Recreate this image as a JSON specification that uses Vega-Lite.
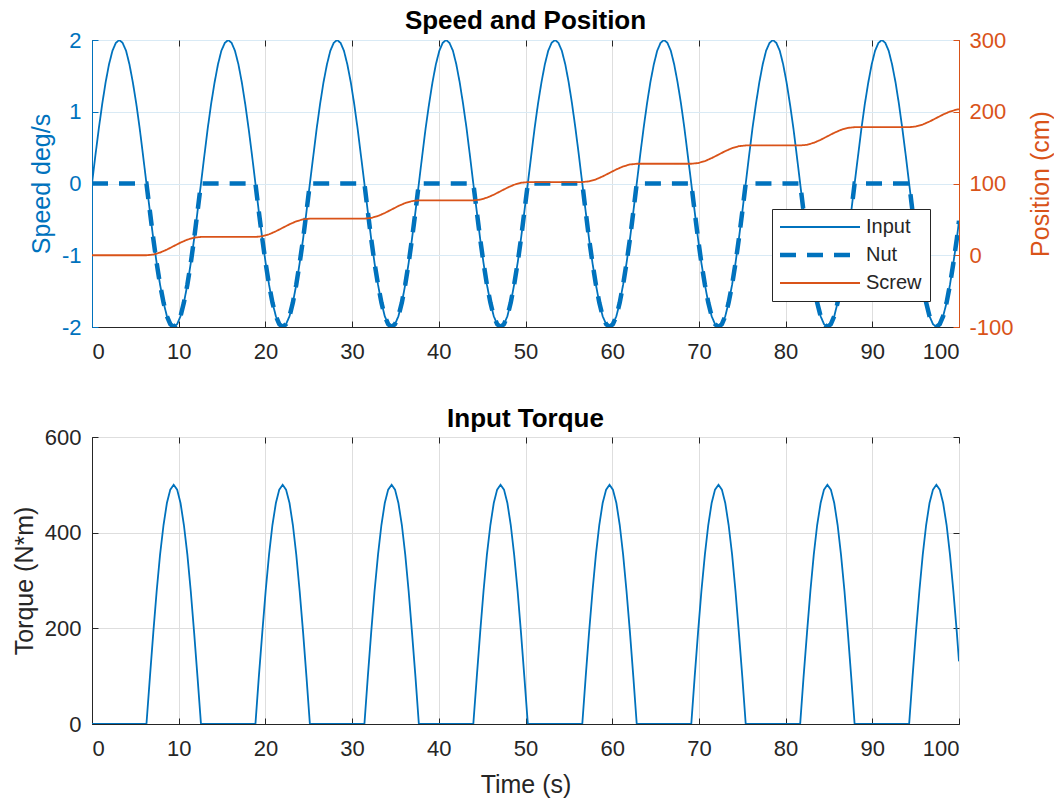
{
"$schema": "https://vega.github.io/schema/vega-lite/v6.json",
"padding": {"left": 11, "top": 7, "right": 0, "bottom": 0},
"spacing": 42,
"background": "#ffffff",
"config": {
  "font": "Liberation Sans",
  "view": {"stroke": "#262626", "strokeWidth": 1},
  "axis": {"labelFont": "Liberation Sans", "titleFont": "Liberation Sans", "labelFontSize": 22, "titleFontSize": 25, "titleFontWeight": "normal", "tickSize": -6, "tickWidth": 1, "domainWidth": 1, "gridWidth": 1, "labelPadding": 20, "minExtent": 0, "labelExpr": "'' + datum.value"},
  "title": {"font": "Liberation Sans", "fontSize": 26, "fontWeight": "bold", "color": "#000000", "offset": -3, "baseline": "alphabetic"},
  "legend": {"orient": "none", "legendX": 680, "legendY": 169, "title": null, "strokeColor": "#262626", "fillColor": "#ffffff", "padding": 8, "labelFontSize": 20, "labelColor": "#262626", "labelFont": "Liberation Sans", "symbolType": "M-4,0H4", "symbolSize": 400, "symbolOffset": 30, "labelOffset": 36, "rowPadding": 8}
},
"datasets": {
"sig": [
{"t":0,"Input":0,"Nut":0,"q":0},{"t":0.39,"Input":0.39,"Nut":0,"q":0},{"t":0.79,"Input":0.77,"Nut":0,"q":0},{"t":1.18,"Input":1.11,"Nut":0,"q":0},{"t":1.57,"Input":1.41,"Nut":0,"q":0},{"t":1.96,"Input":1.66,"Nut":0,"q":0},{"t":2.36,"Input":1.85,"Nut":0,"q":0},{"t":2.75,"Input":1.96,"Nut":0,"q":0},{"t":3.14,"Input":2,"Nut":0,"q":0},{"t":3.53,"Input":1.96,"Nut":0,"q":0},{"t":3.93,"Input":1.85,"Nut":0,"q":0},{"t":4.32,"Input":1.66,"Nut":0,"q":0},{"t":4.71,"Input":1.41,"Nut":0,"q":0},{"t":5.11,"Input":1.11,"Nut":0,"q":0},{"t":5.5,"Input":0.77,"Nut":0,"q":0},{"t":5.89,"Input":0.39,"Nut":0,"q":0},
{"t":6.28,"Input":0,"Nut":0,"q":0},{"t":6.68,"Input":-0.39,"Nut":-0.39,"q":98},{"t":7.07,"Input":-0.77,"Nut":-0.77,"q":191},{"t":7.46,"Input":-1.11,"Nut":-1.11,"q":278},{"t":7.85,"Input":-1.41,"Nut":-1.41,"q":354},{"t":8.25,"Input":-1.66,"Nut":-1.66,"q":416},{"t":8.64,"Input":-1.85,"Nut":-1.85,"q":462},{"t":9.03,"Input":-1.96,"Nut":-1.96,"q":490},{"t":9.42,"Input":-2,"Nut":-2,"q":500},{"t":9.82,"Input":-1.96,"Nut":-1.96,"q":490},{"t":10.21,"Input":-1.85,"Nut":-1.85,"q":462},{"t":10.6,"Input":-1.66,"Nut":-1.66,"q":416},{"t":11,"Input":-1.41,"Nut":-1.41,"q":354},{"t":11.39,"Input":-1.11,"Nut":-1.11,"q":278},{"t":11.78,"Input":-0.77,"Nut":-0.77,"q":191},{"t":12.17,"Input":-0.39,"Nut":-0.39,"q":98},
{"t":12.57,"Input":0,"Nut":0,"q":0},{"t":12.96,"Input":0.39,"Nut":0,"q":0},{"t":13.35,"Input":0.77,"Nut":0,"q":0},{"t":13.74,"Input":1.11,"Nut":0,"q":0},{"t":14.14,"Input":1.41,"Nut":0,"q":0},{"t":14.53,"Input":1.66,"Nut":0,"q":0},{"t":14.92,"Input":1.85,"Nut":0,"q":0},{"t":15.32,"Input":1.96,"Nut":0,"q":0},{"t":15.71,"Input":2,"Nut":0,"q":0},{"t":16.1,"Input":1.96,"Nut":0,"q":0},{"t":16.49,"Input":1.85,"Nut":0,"q":0},{"t":16.89,"Input":1.66,"Nut":0,"q":0},{"t":17.28,"Input":1.41,"Nut":0,"q":0},{"t":17.67,"Input":1.11,"Nut":0,"q":0},{"t":18.06,"Input":0.77,"Nut":0,"q":0},{"t":18.46,"Input":0.39,"Nut":0,"q":0},
{"t":18.85,"Input":0,"Nut":0,"q":0},{"t":19.24,"Input":-0.39,"Nut":-0.39,"q":98},{"t":19.64,"Input":-0.77,"Nut":-0.77,"q":191},{"t":20.03,"Input":-1.11,"Nut":-1.11,"q":278},{"t":20.42,"Input":-1.41,"Nut":-1.41,"q":354},{"t":20.81,"Input":-1.66,"Nut":-1.66,"q":416},{"t":21.21,"Input":-1.85,"Nut":-1.85,"q":462},{"t":21.6,"Input":-1.96,"Nut":-1.96,"q":490},{"t":21.99,"Input":-2,"Nut":-2,"q":500},{"t":22.38,"Input":-1.96,"Nut":-1.96,"q":490},{"t":22.78,"Input":-1.85,"Nut":-1.85,"q":462},{"t":23.17,"Input":-1.66,"Nut":-1.66,"q":416},{"t":23.56,"Input":-1.41,"Nut":-1.41,"q":354},{"t":23.95,"Input":-1.11,"Nut":-1.11,"q":278},{"t":24.35,"Input":-0.77,"Nut":-0.77,"q":191},{"t":24.74,"Input":-0.39,"Nut":-0.39,"q":98},
{"t":25.13,"Input":0,"Nut":0,"q":0},{"t":25.53,"Input":0.39,"Nut":0,"q":0},{"t":25.92,"Input":0.77,"Nut":0,"q":0},{"t":26.31,"Input":1.11,"Nut":0,"q":0},{"t":26.7,"Input":1.41,"Nut":0,"q":0},{"t":27.1,"Input":1.66,"Nut":0,"q":0},{"t":27.49,"Input":1.85,"Nut":0,"q":0},{"t":27.88,"Input":1.96,"Nut":0,"q":0},{"t":28.27,"Input":2,"Nut":0,"q":0},{"t":28.67,"Input":1.96,"Nut":0,"q":0},{"t":29.06,"Input":1.85,"Nut":0,"q":0},{"t":29.45,"Input":1.66,"Nut":0,"q":0},{"t":29.85,"Input":1.41,"Nut":0,"q":0},{"t":30.24,"Input":1.11,"Nut":0,"q":0},{"t":30.63,"Input":0.77,"Nut":0,"q":0},{"t":31.02,"Input":0.39,"Nut":0,"q":0},
{"t":31.42,"Input":0,"Nut":0,"q":0},{"t":31.81,"Input":-0.39,"Nut":-0.39,"q":98},{"t":32.2,"Input":-0.77,"Nut":-0.77,"q":191},{"t":32.59,"Input":-1.11,"Nut":-1.11,"q":278},{"t":32.99,"Input":-1.41,"Nut":-1.41,"q":354},{"t":33.38,"Input":-1.66,"Nut":-1.66,"q":416},{"t":33.77,"Input":-1.85,"Nut":-1.85,"q":462},{"t":34.16,"Input":-1.96,"Nut":-1.96,"q":490},{"t":34.56,"Input":-2,"Nut":-2,"q":500},{"t":34.95,"Input":-1.96,"Nut":-1.96,"q":490},{"t":35.34,"Input":-1.85,"Nut":-1.85,"q":462},{"t":35.74,"Input":-1.66,"Nut":-1.66,"q":416},{"t":36.13,"Input":-1.41,"Nut":-1.41,"q":354},{"t":36.52,"Input":-1.11,"Nut":-1.11,"q":278},{"t":36.91,"Input":-0.77,"Nut":-0.77,"q":191},{"t":37.31,"Input":-0.39,"Nut":-0.39,"q":98},
{"t":37.7,"Input":0,"Nut":0,"q":0},{"t":38.09,"Input":0.39,"Nut":0,"q":0},{"t":38.48,"Input":0.77,"Nut":0,"q":0},{"t":38.88,"Input":1.11,"Nut":0,"q":0},{"t":39.27,"Input":1.41,"Nut":0,"q":0},{"t":39.66,"Input":1.66,"Nut":0,"q":0},{"t":40.06,"Input":1.85,"Nut":0,"q":0},{"t":40.45,"Input":1.96,"Nut":0,"q":0},{"t":40.84,"Input":2,"Nut":0,"q":0},{"t":41.23,"Input":1.96,"Nut":0,"q":0},{"t":41.63,"Input":1.85,"Nut":0,"q":0},{"t":42.02,"Input":1.66,"Nut":0,"q":0},{"t":42.41,"Input":1.41,"Nut":0,"q":0},{"t":42.8,"Input":1.11,"Nut":0,"q":0},{"t":43.2,"Input":0.77,"Nut":0,"q":0},{"t":43.59,"Input":0.39,"Nut":0,"q":0},
{"t":43.98,"Input":0,"Nut":0,"q":0},{"t":44.38,"Input":-0.39,"Nut":-0.39,"q":98},{"t":44.77,"Input":-0.77,"Nut":-0.77,"q":191},{"t":45.16,"Input":-1.11,"Nut":-1.11,"q":278},{"t":45.55,"Input":-1.41,"Nut":-1.41,"q":354},{"t":45.95,"Input":-1.66,"Nut":-1.66,"q":416},{"t":46.34,"Input":-1.85,"Nut":-1.85,"q":462},{"t":46.73,"Input":-1.96,"Nut":-1.96,"q":490},{"t":47.12,"Input":-2,"Nut":-2,"q":500},{"t":47.52,"Input":-1.96,"Nut":-1.96,"q":490},{"t":47.91,"Input":-1.85,"Nut":-1.85,"q":462},{"t":48.3,"Input":-1.66,"Nut":-1.66,"q":416},{"t":48.69,"Input":-1.41,"Nut":-1.41,"q":354},{"t":49.09,"Input":-1.11,"Nut":-1.11,"q":278},{"t":49.48,"Input":-0.77,"Nut":-0.77,"q":191},{"t":49.87,"Input":-0.39,"Nut":-0.39,"q":98},
{"t":50.27,"Input":0,"Nut":0,"q":0},{"t":50.66,"Input":0.39,"Nut":0,"q":0},{"t":51.05,"Input":0.77,"Nut":0,"q":0},{"t":51.44,"Input":1.11,"Nut":0,"q":0},{"t":51.84,"Input":1.41,"Nut":0,"q":0},{"t":52.23,"Input":1.66,"Nut":0,"q":0},{"t":52.62,"Input":1.85,"Nut":0,"q":0},{"t":53.01,"Input":1.96,"Nut":0,"q":0},{"t":53.41,"Input":2,"Nut":0,"q":0},{"t":53.8,"Input":1.96,"Nut":0,"q":0},{"t":54.19,"Input":1.85,"Nut":0,"q":0},{"t":54.59,"Input":1.66,"Nut":0,"q":0},{"t":54.98,"Input":1.41,"Nut":0,"q":0},{"t":55.37,"Input":1.11,"Nut":0,"q":0},{"t":55.76,"Input":0.77,"Nut":0,"q":0},{"t":56.16,"Input":0.39,"Nut":0,"q":0},
{"t":56.55,"Input":0,"Nut":0,"q":0},{"t":56.94,"Input":-0.39,"Nut":-0.39,"q":98},{"t":57.33,"Input":-0.77,"Nut":-0.77,"q":191},{"t":57.73,"Input":-1.11,"Nut":-1.11,"q":278},{"t":58.12,"Input":-1.41,"Nut":-1.41,"q":354},{"t":58.51,"Input":-1.66,"Nut":-1.66,"q":416},{"t":58.9,"Input":-1.85,"Nut":-1.85,"q":462},{"t":59.3,"Input":-1.96,"Nut":-1.96,"q":490},{"t":59.69,"Input":-2,"Nut":-2,"q":500},{"t":60.08,"Input":-1.96,"Nut":-1.96,"q":490},{"t":60.48,"Input":-1.85,"Nut":-1.85,"q":462},{"t":60.87,"Input":-1.66,"Nut":-1.66,"q":416},{"t":61.26,"Input":-1.41,"Nut":-1.41,"q":354},{"t":61.65,"Input":-1.11,"Nut":-1.11,"q":278},{"t":62.05,"Input":-0.77,"Nut":-0.77,"q":191},{"t":62.44,"Input":-0.39,"Nut":-0.39,"q":98},
{"t":62.83,"Input":0,"Nut":0,"q":0},{"t":63.22,"Input":0.39,"Nut":0,"q":0},{"t":63.62,"Input":0.77,"Nut":0,"q":0},{"t":64.01,"Input":1.11,"Nut":0,"q":0},{"t":64.4,"Input":1.41,"Nut":0,"q":0},{"t":64.8,"Input":1.66,"Nut":0,"q":0},{"t":65.19,"Input":1.85,"Nut":0,"q":0},{"t":65.58,"Input":1.96,"Nut":0,"q":0},{"t":65.97,"Input":2,"Nut":0,"q":0},{"t":66.37,"Input":1.96,"Nut":0,"q":0},{"t":66.76,"Input":1.85,"Nut":0,"q":0},{"t":67.15,"Input":1.66,"Nut":0,"q":0},{"t":67.54,"Input":1.41,"Nut":0,"q":0},{"t":67.94,"Input":1.11,"Nut":0,"q":0},{"t":68.33,"Input":0.77,"Nut":0,"q":0},{"t":68.72,"Input":0.39,"Nut":0,"q":0},
{"t":69.12,"Input":0,"Nut":0,"q":0},{"t":69.51,"Input":-0.39,"Nut":-0.39,"q":98},{"t":69.9,"Input":-0.77,"Nut":-0.77,"q":191},{"t":70.29,"Input":-1.11,"Nut":-1.11,"q":278},{"t":70.69,"Input":-1.41,"Nut":-1.41,"q":354},{"t":71.08,"Input":-1.66,"Nut":-1.66,"q":416},{"t":71.47,"Input":-1.85,"Nut":-1.85,"q":462},{"t":71.86,"Input":-1.96,"Nut":-1.96,"q":490},{"t":72.26,"Input":-2,"Nut":-2,"q":500},{"t":72.65,"Input":-1.96,"Nut":-1.96,"q":490},{"t":73.04,"Input":-1.85,"Nut":-1.85,"q":462},{"t":73.43,"Input":-1.66,"Nut":-1.66,"q":416},{"t":73.83,"Input":-1.41,"Nut":-1.41,"q":354},{"t":74.22,"Input":-1.11,"Nut":-1.11,"q":278},{"t":74.61,"Input":-0.77,"Nut":-0.77,"q":191},{"t":75.01,"Input":-0.39,"Nut":-0.39,"q":98},
{"t":75.4,"Input":0,"Nut":0,"q":0},{"t":75.79,"Input":0.39,"Nut":0,"q":0},{"t":76.18,"Input":0.77,"Nut":0,"q":0},{"t":76.58,"Input":1.11,"Nut":0,"q":0},{"t":76.97,"Input":1.41,"Nut":0,"q":0},{"t":77.36,"Input":1.66,"Nut":0,"q":0},{"t":77.75,"Input":1.85,"Nut":0,"q":0},{"t":78.15,"Input":1.96,"Nut":0,"q":0},{"t":78.54,"Input":2,"Nut":0,"q":0},{"t":78.93,"Input":1.96,"Nut":0,"q":0},{"t":79.33,"Input":1.85,"Nut":0,"q":0},{"t":79.72,"Input":1.66,"Nut":0,"q":0},{"t":80.11,"Input":1.41,"Nut":0,"q":0},{"t":80.5,"Input":1.11,"Nut":0,"q":0},{"t":80.9,"Input":0.77,"Nut":0,"q":0},{"t":81.29,"Input":0.39,"Nut":0,"q":0},
{"t":81.68,"Input":0,"Nut":0,"q":0},{"t":82.07,"Input":-0.39,"Nut":-0.39,"q":98},{"t":82.47,"Input":-0.77,"Nut":-0.77,"q":191},{"t":82.86,"Input":-1.11,"Nut":-1.11,"q":278},{"t":83.25,"Input":-1.41,"Nut":-1.41,"q":354},{"t":83.64,"Input":-1.66,"Nut":-1.66,"q":416},{"t":84.04,"Input":-1.85,"Nut":-1.85,"q":462},{"t":84.43,"Input":-1.96,"Nut":-1.96,"q":490},{"t":84.82,"Input":-2,"Nut":-2,"q":500},{"t":85.22,"Input":-1.96,"Nut":-1.96,"q":490},{"t":85.61,"Input":-1.85,"Nut":-1.85,"q":462},{"t":86,"Input":-1.66,"Nut":-1.66,"q":416},{"t":86.39,"Input":-1.41,"Nut":-1.41,"q":354},{"t":86.79,"Input":-1.11,"Nut":-1.11,"q":278},{"t":87.18,"Input":-0.77,"Nut":-0.77,"q":191},{"t":87.57,"Input":-0.39,"Nut":-0.39,"q":98},
{"t":87.96,"Input":0,"Nut":0,"q":0},{"t":88.36,"Input":0.39,"Nut":0,"q":0},{"t":88.75,"Input":0.77,"Nut":0,"q":0},{"t":89.14,"Input":1.11,"Nut":0,"q":0},{"t":89.54,"Input":1.41,"Nut":0,"q":0},{"t":89.93,"Input":1.66,"Nut":0,"q":0},{"t":90.32,"Input":1.85,"Nut":0,"q":0},{"t":90.71,"Input":1.96,"Nut":0,"q":0},{"t":91.11,"Input":2,"Nut":0,"q":0},{"t":91.5,"Input":1.96,"Nut":0,"q":0},{"t":91.89,"Input":1.85,"Nut":0,"q":0},{"t":92.28,"Input":1.66,"Nut":0,"q":0},{"t":92.68,"Input":1.41,"Nut":0,"q":0},{"t":93.07,"Input":1.11,"Nut":0,"q":0},{"t":93.46,"Input":0.77,"Nut":0,"q":0},{"t":93.86,"Input":0.39,"Nut":0,"q":0},
{"t":94.25,"Input":0,"Nut":0,"q":0},{"t":94.64,"Input":-0.39,"Nut":-0.39,"q":98},{"t":95.03,"Input":-0.77,"Nut":-0.77,"q":191},{"t":95.43,"Input":-1.11,"Nut":-1.11,"q":278},{"t":95.82,"Input":-1.41,"Nut":-1.41,"q":354},{"t":96.21,"Input":-1.66,"Nut":-1.66,"q":416},{"t":96.6,"Input":-1.85,"Nut":-1.85,"q":462},{"t":97,"Input":-1.96,"Nut":-1.96,"q":490},{"t":97.39,"Input":-2,"Nut":-2,"q":500},{"t":97.78,"Input":-1.96,"Nut":-1.96,"q":490},{"t":98.17,"Input":-1.85,"Nut":-1.85,"q":462},{"t":98.57,"Input":-1.66,"Nut":-1.66,"q":416},{"t":98.96,"Input":-1.41,"Nut":-1.41,"q":354},{"t":99.35,"Input":-1.11,"Nut":-1.11,"q":278},{"t":99.75,"Input":-0.77,"Nut":-0.77,"q":191},{"t":100,"Input":-0.52,"Nut":-0.52,"q":131}
],
"scr": [
{"t":0,"Screw":0},
{"t":6.28,"Screw":0},{"t":7.07,"Screw":0.97},{"t":7.85,"Screw":3.73},{"t":8.64,"Screw":7.87},{"t":9.42,"Screw":12.75},{"t":10.21,"Screw":17.63},{"t":11,"Screw":21.77},{"t":11.78,"Screw":24.53},{"t":12.57,"Screw":25.5},
{"t":18.85,"Screw":25.5},{"t":19.64,"Screw":26.47},{"t":20.42,"Screw":29.23},{"t":21.21,"Screw":33.37},{"t":21.99,"Screw":38.25},{"t":22.78,"Screw":43.13},{"t":23.56,"Screw":47.27},{"t":24.35,"Screw":50.03},{"t":25.13,"Screw":51},
{"t":31.42,"Screw":51},{"t":32.2,"Screw":51.97},{"t":32.99,"Screw":54.73},{"t":33.77,"Screw":58.87},{"t":34.56,"Screw":63.75},{"t":35.34,"Screw":68.63},{"t":36.13,"Screw":72.77},{"t":36.91,"Screw":75.53},{"t":37.7,"Screw":76.5},
{"t":43.98,"Screw":76.5},{"t":44.77,"Screw":77.47},{"t":45.55,"Screw":80.23},{"t":46.34,"Screw":84.37},{"t":47.12,"Screw":89.25},{"t":47.91,"Screw":94.13},{"t":48.69,"Screw":98.27},{"t":49.48,"Screw":101.03},{"t":50.27,"Screw":102},
{"t":56.55,"Screw":102},{"t":57.33,"Screw":102.97},{"t":58.12,"Screw":105.73},{"t":58.9,"Screw":109.87},{"t":59.69,"Screw":114.75},{"t":60.48,"Screw":119.63},{"t":61.26,"Screw":123.77},{"t":62.05,"Screw":126.53},{"t":62.83,"Screw":127.5},
{"t":69.12,"Screw":127.5},{"t":69.9,"Screw":128.47},{"t":70.69,"Screw":131.23},{"t":71.47,"Screw":135.37},{"t":72.26,"Screw":140.25},{"t":73.04,"Screw":145.13},{"t":73.83,"Screw":149.27},{"t":74.61,"Screw":152.03},{"t":75.4,"Screw":153},
{"t":81.68,"Screw":153},{"t":82.47,"Screw":153.97},{"t":83.25,"Screw":156.73},{"t":84.04,"Screw":160.87},{"t":84.82,"Screw":165.75},{"t":85.61,"Screw":170.63},{"t":86.39,"Screw":174.77},{"t":87.18,"Screw":177.53},{"t":87.96,"Screw":178.5},
{"t":94.25,"Screw":178.5},{"t":95.03,"Screw":179.47},{"t":95.82,"Screw":182.23},{"t":96.6,"Screw":186.37},{"t":97.39,"Screw":191.25},{"t":98.17,"Screw":196.13},{"t":98.96,"Screw":200.27},{"t":99.75,"Screw":203.03},{"t":100,"Screw":203.55}
]
},
"vconcat": [
{
  "title": {"text": "Speed and Position", "offset": -5},
  "width": 867, "height": 287,
  "layer": [
    {
      "data": {"name": "sig"},
      "transform": [{"fold": ["Input", "Nut"], "as": ["series", "v"]}],
      "mark": {"type": "line", "clip": true},
      "encoding": {
        "x": {"field": "t", "type": "quantitative", "scale": {"domain": [0, 100], "nice": false},
              "axis": {"values": [0,10,20,30,40,50,60,70,80,90,100], "title": null, "grid": true, "gridColor": "#dedede", "domainColor": "#262626", "tickColor": "#262626", "labelColor": "#262626"}},
        "y": {"field": "v", "type": "quantitative", "scale": {"domain": [-2, 2], "nice": false},
              "axis": {"orient": "left", "values": [-2,-1,0,1,2], "title": "Speed deg/s", "titleColor": "#0072BD", "labelColor": "#0072BD", "domainColor": "#0072BD", "tickColor": "#0072BD", "grid": true, "gridColor": "#d9eaf5", "labelPadding": 17, "titlePadding": 7}},
        "color": {"field": "series", "type": "nominal", "scale": {"domain": ["Input", "Nut", "Screw"], "range": ["#0072BD", "#0072BD", "#D95319"]},
                  "legend": {"encode": {"symbols": {"update": {"strokeWidth": {"signal": "datum.value === 'Nut' ? 4.5 : 1.8"}}}}}},
        "strokeDash": {"field": "series", "type": "nominal", "scale": {"domain": ["Input", "Nut", "Screw"], "range": [[1, 0], [16, 11], [1, 0]]},
                  "legend": {"encode": {"symbols": {"update": {"strokeWidth": {"signal": "datum.value === 'Nut' ? 4.5 : 1.8"}}}}}},
        "strokeWidth": {"condition": {"test": "datum.series === 'Nut'", "value": 4.5}, "value": 1.8}
      }
    },
    {
      "data": {"name": "scr"},
      "transform": [{"fold": ["Screw"], "as": ["series", "v"]}],
      "mark": {"type": "line", "clip": true, "strokeWidth": 1.8},
      "encoding": {
        "x": {"field": "t", "type": "quantitative", "scale": {"domain": [0, 100], "nice": false},
              "axis": {"orient": "top", "values": [0,10,20,30,40,50,60,70,80,90,100], "title": null, "labels": false, "grid": false, "domain": false, "tickColor": "#262626", "labelPadding": 6}},
        "y": {"field": "v", "type": "quantitative", "scale": {"domain": [-100, 300], "nice": false},
              "axis": {"orient": "right", "values": [-100,0,100,200,300], "title": "Position (cm)", "titleAngle": -90, "titleColor": "#D95319", "labelColor": "#D95319", "domainColor": "#D95319", "tickColor": "#D95319", "grid": false, "labelPadding": 16, "titlePadding": 40}},
        "color": {"field": "series", "type": "nominal", "scale": {"domain": ["Input", "Nut", "Screw"], "range": ["#0072BD", "#0072BD", "#D95319"]},
                  "legend": {"encode": {"symbols": {"update": {"strokeWidth": {"signal": "datum.value === 'Nut' ? 4.5 : 1.8"}}}}}},
        "strokeDash": {"field": "series", "type": "nominal", "scale": {"domain": ["Input", "Nut", "Screw"], "range": [[1, 0], [16, 11], [1, 0]]},
                  "legend": {"encode": {"symbols": {"update": {"strokeWidth": {"signal": "datum.value === 'Nut' ? 4.5 : 1.8"}}}}}}
      }
    }
  ],
  "resolve": {"scale": {"y": "independent"}, "axis": {"x": "independent", "y": "independent"}}
},
{
  "title": {"text": "Input Torque", "offset": -6},
  "width": 867, "height": 287,
  "data": {"name": "sig"},
  "layer": [
    {
      "mark": {"type": "line", "color": "#0072BD", "strokeWidth": 1.8, "clip": true},
      "encoding": {
        "x": {"field": "t", "type": "quantitative", "scale": {"domain": [0, 100], "nice": false},
              "axis": {"values": [0,10,20,30,40,50,60,70,80,90,100], "title": "Time (s)", "titleColor": "#262626", "titlePadding": 13, "grid": true, "gridColor": "#dedede", "domainColor": "#262626", "tickColor": "#262626", "labelColor": "#262626"}},
        "y": {"field": "q", "type": "quantitative", "scale": {"domain": [0, 600], "nice": false},
              "axis": {"values": [0,200,400,600], "title": "Torque (N*m)", "titleColor": "#262626", "titlePadding": 7, "grid": true, "gridColor": "#dedede", "domainColor": "#262626", "tickColor": "#262626", "labelColor": "#262626", "labelPadding": 17}}
      }
    },
    {
      "mark": {"type": "line", "opacity": 0},
      "encoding": {
        "x": {"field": "t", "type": "quantitative", "scale": {"domain": [0, 100], "nice": false},
              "axis": {"orient": "top", "values": [0,10,20,30,40,50,60,70,80,90,100], "title": null, "labels": false, "grid": false, "domain": false, "tickColor": "#262626", "labelPadding": 6}},
        "y": {"field": "q", "type": "quantitative", "scale": {"domain": [0, 600], "nice": false},
              "axis": {"orient": "right", "values": [0,200,400,600], "title": null, "labels": false, "grid": false, "domain": false, "tickColor": "#262626", "labelPadding": 6}}
      }
    }
  ],
  "resolve": {"axis": {"x": "independent", "y": "independent"}}
}
]
}
